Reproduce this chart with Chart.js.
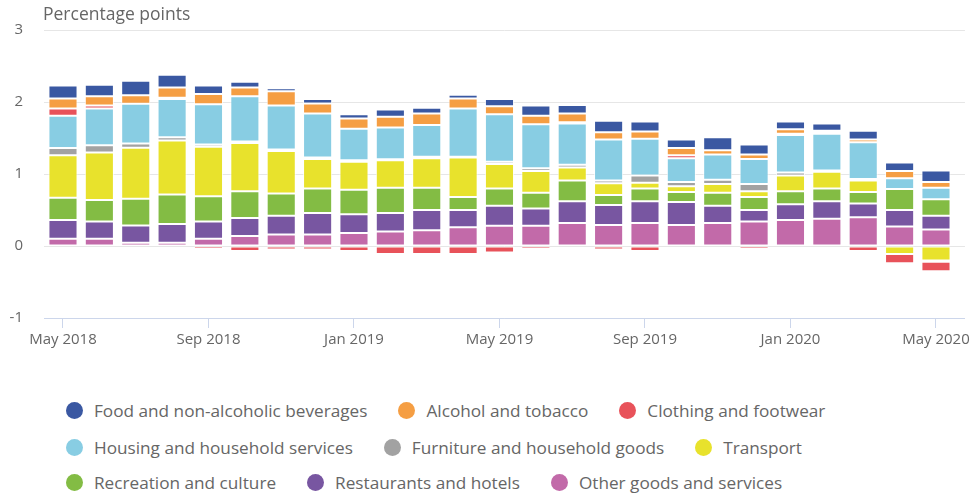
<!DOCTYPE html>
<html>
<head>
<meta charset="utf-8">
<script src="https://cdn.jsdelivr.net/npm/chart.js@4.4.1/dist/chart.umd.min.js"></script>
<style>
  body { margin: 0; background: #fff; font-family: "Open Sans", sans-serif; }
  #wrap { position: relative; width: 973px; height: 494px; }
  #plot { position: absolute; left: 0; top: 0; width: 973px; height: 360px; }
  #unit { position: absolute; left: 43px; top: 1px; font-size: 17.5px; color: #666; }
  .row { position: absolute; left: 66px; display: flex; align-items: center; height: 22px; }
  .item { display: flex; align-items: center; margin-right: 31px; font-size: 17.2px; color: #666; white-space: nowrap; }
  .dot { width: 17px; height: 17px; border-radius: 50%; margin-right: 11px; }
</style>
</head>
<body>
<div id="wrap">
  <div id="plot"><canvas id="chart"></canvas></div>
  <div id="unit">Percentage points</div>
  <div id="legend"></div>
</div>
<script>
const months = ['May 2018', 'Jun 2018', 'Jul 2018', 'Aug 2018', 'Sep 2018', 'Oct 2018', 'Nov 2018', 'Dec 2018',
    'Jan 2019', 'Feb 2019', 'Mar 2019', 'Apr 2019', 'May 2019', 'Jun 2019', 'Jul 2019', 'Aug 2019',
    'Sep 2019', 'Oct 2019', 'Nov 2019', 'Dec 2019', 'Jan 2020', 'Feb 2020', 'Mar 2020', 'Apr 2020', 'May 2020'];

const yTicks = [-1, 0, 1, 2, 3];

// contributions, percentage points
const food = [0.18, 0.16, 0.20, 0.18, 0.12, 0.08, 0.04, 0.06, 0.06, 0.10, 0.08, 0.05, 0.10, 0.14, 0.12, 0.16, 0.14, 0.12, 0.18, 0.14, 0.11, 0.10, 0.12, 0.12, 0.16];
const alcohol = [0.14, 0.13, 0.12, 0.14, 0.14, 0.12, 0.20, 0.14, 0.14, 0.15, 0.16, 0.14, 0.11, 0.12, 0.12, 0.10, 0.10, 0.10, 0.06, 0.06, 0.06, 0.02, 0.04, 0.10, 0.08];
const clothing = [0.10, 0.04, 0, 0.02, -0.04, -0.07, -0.05, -0.05, -0.07, -0.11, -0.11, -0.11, -0.09, -0.04, 0.02, -0.05, -0.07, 0.04, 0, -0.04, 0.02, 0.02, -0.07, -0.13, -0.13];
const housing = [0.45, 0.51, 0.55, 0.53, 0.56, 0.63, 0.61, 0.61, 0.44, 0.44, 0.44, 0.67, 0.66, 0.61, 0.57, 0.57, 0.51, 0.33, 0.35, 0.35, 0.52, 0.51, 0.51, 0.15, 0.16];
const furniture = [0.10, 0.10, 0.06, 0.045, 0.03, 0.02, 0.02, 0.02, 0.02, 0.015, 0.02, 0.01, 0.03, 0.04, 0.04, 0.04, 0.10, 0.06, 0.06, 0.10, 0.04, 0.02, 0.02, 0, -0.02];
const transport = [0.59, 0.66, 0.71, 0.75, 0.69, 0.67, 0.59, 0.41, 0.39, 0.38, 0.41, 0.55, 0.34, 0.30, 0.18, 0.16, 0.08, 0.08, 0.12, 0.08, 0.22, 0.23, 0.16, -0.11, -0.20];
const recreation = [0.31, 0.30, 0.37, 0.41, 0.35, 0.37, 0.31, 0.34, 0.34, 0.35, 0.31, 0.18, 0.24, 0.22, 0.29, 0.14, 0.18, 0.14, 0.18, 0.18, 0.18, 0.18, 0.16, 0.29, 0.23];
const restaurants = [0.26, 0.24, 0.24, 0.26, 0.24, 0.25, 0.26, 0.30, 0.26, 0.26, 0.28, 0.24, 0.28, 0.24, 0.30, 0.28, 0.30, 0.32, 0.24, 0.16, 0.22, 0.24, 0.19, 0.23, 0.19];
const otherGoods = [0.10, 0.10, 0.045, 0.045, 0.10, 0.14, 0.16, 0.16, 0.18, 0.20, 0.22, 0.26, 0.28, 0.28, 0.32, 0.29, 0.32, 0.29, 0.32, 0.34, 0.36, 0.38, 0.40, 0.27, 0.23];

// legend order (top of stack first)
const series = [
    { label: 'Food and non-alcoholic beverages', values: food, color: '#3a58a2' },
    { label: 'Alcohol and tobacco', values: alcohol, color: '#f59e43' },
    { label: 'Clothing and footwear', values: clothing, color: '#e8525a' },
    { label: 'Housing and household services', values: housing, color: '#88cde3' },
    { label: 'Furniture and household goods', values: furniture, color: '#a2a2a2' },
    { label: 'Transport', values: transport, color: '#e8e22c' },
    { label: 'Recreation and culture', values: recreation, color: '#83bc44' },
    { label: 'Restaurants and hotels', values: restaurants, color: '#7856a1' },
    { label: 'Other goods and services', values: otherGoods, color: '#c26aa9' },
];

Chart.defaults.font.family = '"Open Sans", sans-serif';
Chart.defaults.color = '#666';

// chart.js stacks the first dataset at the bottom
const datasets = series.slice().reverse().map(s => ({
    label: s.label,
    data: s.values.map((v, i) => ({ x: i, y: v })),
    backgroundColor: s.color,
    borderColor: 'rgba(255,255,255,0.75)',
    borderWidth: 1,
    borderSkipped: false,
    barPercentage: 0.8,
    categoryPercentage: 1,
}));

new Chart(document.getElementById('chart'), {
    type: 'bar',
    data: { datasets },
    options: {
        responsive: true,
        maintainAspectRatio: false,
        animation: false,
        layout: { padding: { top: 23, right: 8 } },
        plugins: { legend: { display: false }, tooltip: { enabled: false } },
        scales: {
            x: {
                type: 'linear',
                stacked: true,
                offset: false,
                min: -0.522,
                max: 24.797,
                afterFit: s => { s.height = 42; },
                border: { display: true, color: '#ccd6eb' },
                grid: { offset: false, drawOnChartArea: false, drawTicks: true, tickLength: 10, color: '#ccd6eb' },
                ticks: {
                    stepSize: 4,
                    includeBounds: false,
                    autoSkip: false,
                    maxRotation: 0,
                    padding: 3,
                    font: { size: 15 },
                    callback: v => (Number.isInteger(v) && v % 4 === 0 ? months[v] : null),
                },
            },
            y: {
                stacked: true,
                min: yTicks[0],
                max: yTicks[yTicks.length - 1],
                afterFit: s => { s.width = 44; },
                border: { display: false },
                grid: {
                    drawTicks: false,
                    color: c => (c.tick.value === yTicks[0] ? '#ccd6eb' : '#e6e6e6'),
                },
                ticks: { stepSize: 1, padding: 21, font: { size: 15 } },
            },
        },
    },
});

// html legend, three per row
const legend = document.getElementById('legend');
const rowTops = [399, 436, 471];
rowTops.forEach((top, r) => {
    const row = document.createElement('div');
    row.className = 'row';
    row.style.top = top + 'px';
    series.slice(r * 3, r * 3 + 3).forEach(s => {
        const item = document.createElement('div');
        item.className = 'item';
        const dot = document.createElement('span');
        dot.className = 'dot';
        dot.style.background = s.color;
        item.appendChild(dot);
        item.appendChild(document.createTextNode(s.label));
        row.appendChild(item);
    });
    legend.appendChild(row);
});
</script>
</body>
</html>
